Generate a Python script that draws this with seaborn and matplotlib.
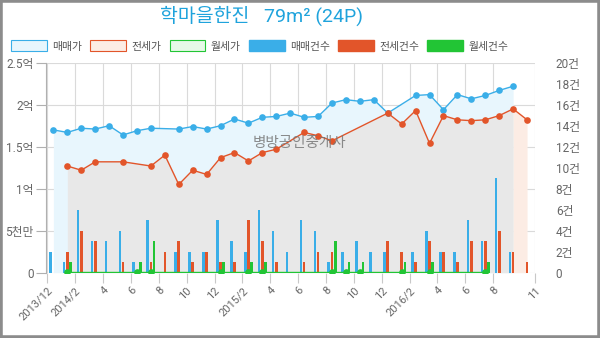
import matplotlib
matplotlib.use('Agg')
import numpy as np
import pandas as pd
import matplotlib.pyplot as plt
from matplotlib.patches import Patch, Rectangle
import seaborn as sns

# ---------------- data ----------------
months = ['2013-12', '2014-01', '2014-02', '2014-03', '2014-04', '2014-05', '2014-06',
          '2014-07', '2014-08', '2014-09', '2014-10', '2014-11', '2014-12', '2015-01',
          '2015-02', '2015-03', '2015-04', '2015-05', '2015-06', '2015-07', '2015-08',
          '2015-09', '2015-10', '2015-11', '2015-12', '2016-01', '2016-02', '2016-03',
          '2016-04', '2016-05', '2016-06', '2016-07', '2016-08', '2016-09', '2016-10']

# prices in 만원
sale_price = [17000, 16700, 17200, 17100, 17500, 16400, 16900, 17200, None, 17100,
              17400, 17100, 17500, 18300, 17800, 18500, 18600, 19000, 18500, 18600,
              20200, 20600, 20400, 20600, 19000, None, 21100, 21200, 19400, 21200,
              20700, 21100, 21700, 22200, None]
jeonse_price = [None, 12700, 12200, 13200, None, 13200, None, 12700, 14000, 10500,
                12200, 11700, 13700, 14300, 13300, 14300, 14700, None, 16700, 16300,
                15700, None, None, None, 19000, 17700, 19300, 15400, 18700, 18200,
                18100, 18200, 18700, 19500, 18200]
wolse_price = [None, 100, None, None, None, None, 100, 100, None, None,
               None, None, 100, None, 100, 100, None, None, None, None,
               100, 100, 100, None, None, 100, None, 100, None, None,
               None, 100, None, None, None]

# transaction counts (건)
sale_cnt = [2, 1, 6, 3, 3, 4, 1, 5, 0, 2, 2, 2, 5, 3, 2, 6, 4, 2, 5, 4,
            1, 2, 3, 2, 2, 0, 2, 4, 2, 2, 5, 3, 9, 2, 0]
jeonse_cnt = [0, 2, 4, 3, 0, 1, 0, 1, 2, 3, 1, 2, 1, 1, 5, 3, 1, 0, 1, 2,
              2, 0, 0, 0, 3, 2, 1, 3, 2, 1, 3, 3, 4, 2, 1]
wolse_cnt = [0, 1, 0, 0, 0, 0, 1, 3, 0, 0, 0, 0, 1, 0, 1, 1, 0, 0, 0, 0,
             3, 1, 1, 0, 0, 1, 0, 1, 0, 0, 0, 1, 0, 0, 0]

tick_months = ['2013-12', '2014-02', '2014-04', '2014-06', '2014-08', '2014-10',
               '2014-12', '2015-02', '2015-04', '2015-06', '2015-08', '2015-10',
               '2015-12', '2016-02', '2016-04', '2016-06', '2016-08', '2016-11']
tick_labels = ['2013/12', '2014/2', '4', '6', '8', '10', '12', '2015/2', '4', '6',
               '8', '10', '12', '2016/2', '4', '6', '8', '11']

price_ticks = [0, 5000, 10000, 15000, 20000, 25000]
price_labels = ['0', '5천만', '1억', '1.5억', '2억', '2.5억']
count_ticks = [0, 2, 4, 6, 8, 10, 12, 14, 16, 18, 20]
count_labels = ['0'] + [f'{v}건' for v in count_ticks[1:]]

legend_labels = ['매매가', '전세가', '월세가', '매매건수', '전세건수', '월세건수']
title = '학마을한진   79m² (24P)'
watermark = '병방공인중개사'

# ---------------- style ----------------
BLUE = '#3aaee8'
ORANGE = '#e2552a'
GREEN = '#22c535'
TITLE_C = '#1fa3dc'
GRID = '#dadada'
TXT = '#666666'
BLUE_FILL = '#e8f6fd'
ORANGE_FILL = '#fcece4'
OVERLAP_FILL = '#e8e8e8'

sns.set_theme(style='white')
plt.rcParams['font.family'] = ['Roboto', 'Noto Sans CJK KR', 'DejaVu Sans']


def month_pos(s):
    y, m = map(int, s.split('-'))
    return (y - 2013) * 12 + (m - 12)


df = pd.DataFrame({
    'month': months,
    'sale': pd.array(sale_price, dtype='Float64').astype(float),
    'jeonse': pd.array(jeonse_price, dtype='Float64').astype(float),
    'wolse': pd.array(wolse_price, dtype='Float64').astype(float),
    'sale_n': sale_cnt, 'jeonse_n': jeonse_cnt, 'wolse_n': wolse_cnt,
})
df['x'] = [month_pos(m) + 0.43 for m in months]

fig = plt.figure(figsize=(6, 3.38), dpi=100)
L, R, T, B = 46, 535, 62.7, 272.7
ax = fig.add_axes([L / 600, 1 - B / 338, (R - L) / 600, (B - T) / 338])
ax2 = ax.twinx()
ax3 = ax.twinx()

xlim = (-0.1, 35.0)

# fills (bottom layer)
ds = df.dropna(subset=['sale'])
dj = df.dropna(subset=['jeonse'])
ax.fill_between(ds['x'], ds['sale'], 0, color=BLUE_FILL, lw=0, zorder=1)
s_min, s_max = ds['x'].min(), ds['x'].max()
inside = (dj['x'] >= s_min) & (dj['x'] <= s_max)
ax.fill_between(dj['x'], dj['jeonse'], 0, where=inside, color=OVERLAP_FILL, lw=0, zorder=1.1)
ax.fill_between(dj['x'], dj['jeonse'], 0, where=(dj['x'] >= s_max), color=ORANGE_FILL,
                lw=0, zorder=1.1)

ax.set_xlim(*xlim)
ax.set_ylim(0, 25000)
ax.set_yticks(price_ticks)
ax.set_yticklabels(price_labels)
ax.set_xticks([month_pos(m) for m in tick_months])
ax.set_xticklabels(tick_labels, rotation=45, ha='right', va='top', rotation_mode='anchor')
ax.grid(True, color=GRID, lw=0.8, zorder=2)
for s in ['top', 'right', 'bottom']:
    ax.spines[s].set_visible(False)
ax.spines['left'].set_color('#b0b0b0')
ax.spines['left'].set_linewidth(0.8)
ax.tick_params(axis='y', left=True, length=7, width=0.8, color='#b0b0b0',
               labelcolor=TXT, labelsize=8.5, pad=2)
ax.tick_params(axis='x', bottom=True, length=7, width=0.8, color='#c8c8c8',
               labelcolor=TXT, labelsize=8, pad=2)

# bars (count axis)
bw = 0.19
off = 0.23
ax2.bar(df['x'] - off, df['sale_n'], width=bw, color=BLUE, lw=0)
ax2.bar(df['x'], df['jeonse_n'], width=bw, color=ORANGE, lw=0)
ax2.bar(df['x'] + off, df['wolse_n'], width=bw, color=GREEN, lw=0)
ax2.set_xlim(*xlim)
ax2.set_ylim(0, 20)
ax2.set_yticks(count_ticks)
ax2.set_yticklabels(count_labels)
ax2.tick_params(axis='y', right=True, length=0, labelcolor=TXT, labelsize=8.5, pad=15)
ax2.grid(False)
for s in ax2.spines.values():
    s.set_visible(False)

# lines (top layer)
for col, color in [('sale', BLUE), ('jeonse', ORANGE), ('wolse', GREEN)]:
    d = df.dropna(subset=[col])
    sns.lineplot(data=d, x='x', y=col, ax=ax3, color=color, lw=1.0, marker='o',
                 markersize=4.8, markeredgewidth=0, legend=False, sort=True)
ax3.set_xlim(*xlim)
ax3.set_ylim(0, 25000)
ax3.set_yticks([])
ax3.set_ylabel('')
ax3.set_xlabel('')
ax3.grid(False)
for s in ax3.spines.values():
    s.set_visible(False)
ax.set_xlabel('')
ax.set_ylabel('')
ax2.set_ylabel('')

# title, watermark
fig.text(262 / 600, 1 - 16 / 338, title, ha='center', va='center',
         fontsize=14, color=TITLE_C)
fig.text(299 / 600, 1 - 143 / 338, watermark, ha='center', va='center',
         fontsize=10.5, color='#777777', alpha=0.85)

# legend
handles = [
    Patch(facecolor=BLUE_FILL, edgecolor=BLUE, lw=0.8),
    Patch(facecolor=ORANGE_FILL, edgecolor=ORANGE, lw=0.8),
    Patch(facecolor='#e6f9e7', edgecolor=GREEN, lw=0.8),
    Patch(facecolor=BLUE, edgecolor=BLUE),
    Patch(facecolor=ORANGE, edgecolor=ORANGE),
    Patch(facecolor=GREEN, edgecolor=GREEN),
]
fig.legend(handles, legend_labels, loc='center left',
           bbox_to_anchor=(11 / 600, 1 - 46 / 338), ncol=6, frameon=False,
           fontsize=7.8, handlelength=3.3, handleheight=1.15, handletextpad=0.5,
           columnspacing=0.75, borderpad=0, borderaxespad=0, labelcolor='#555555')

# outer frame
fig.add_artist(Rectangle((0, 0), 1, 1, transform=fig.transFigure, fill=False,
                         edgecolor='#8c8c8c', lw=4))

fig.savefig('out.png', dpi=100, facecolor='white')
